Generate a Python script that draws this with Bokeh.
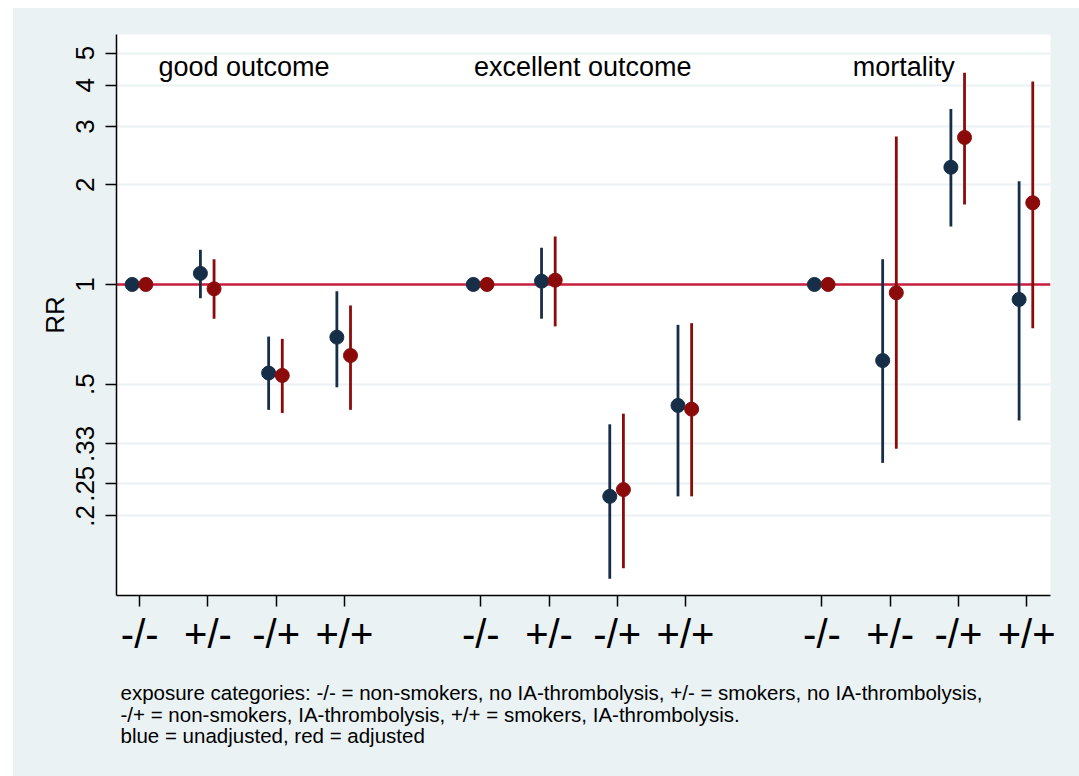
from bokeh.plotting import figure
from bokeh.models import Range1d, FixedTicker, ColumnDataSource
from bokeh.layouts import column
from bokeh.core.properties import value
from bokeh.embed import file_html
from bokeh.resources import INLINE

# ---------------- data ----------------
outcomes = ["good outcome", "excellent outcome", "mortality"]
exposures = ["-/-", "+/-", "-/+", "+/+"]

# unadjusted (blue): point estimate, lower CI, upper CI
good_unadj = [1.0, 1.08, 0.54, 0.693]
good_unadj_lo = [1.0, 0.909, 0.418, 0.489]
good_unadj_hi = [1.0, 1.273, 0.696, 0.954]
exc_unadj = [1.0, 1.023, 0.229, 0.431]
exc_unadj_lo = [1.0, 0.788, 0.129, 0.229]
exc_unadj_hi = [1.0, 1.29, 0.378, 0.755]
mort_unadj = [1.0, 0.589, 2.26, 0.901]
mort_unadj_lo = [1.0, 0.289, 1.497, 0.388]
mort_unadj_hi = [1.0, 1.192, 3.39, 2.05]

# adjusted (red)
good_adj = [1.0, 0.970, 0.531, 0.610]
good_adj_lo = [1.0, 0.788, 0.409, 0.418]
good_adj_hi = [1.0, 1.192, 0.685, 0.864]
exc_adj = [1.0, 1.03, 0.240, 0.420]
exc_adj_lo = [1.0, 0.747, 0.139, 0.229]
exc_adj_hi = [1.0, 1.397, 0.407, 0.764]
mort_adj = [1.0, 0.944, 2.78, 1.765]
mort_adj_lo = [1.0, 0.319, 1.745, 0.738]
mort_adj_hi = [1.0, 2.80, 4.36, 4.10]

ytick_vals = [0.2, 0.25, 0.33, 0.5, 1, 2, 3, 4, 5]
ytick_labels = [".2", ".25", ".33", ".5", "1", "2", "3", "4", "5"]

footnote = [
    "exposure categories: -/- = non-smokers, no IA-thrombolysis,  +/- = smokers, no IA-thrombolysis,",
    "-/+ = non-smokers, IA-thrombolysis, +/+ = smokers, IA-thrombolysis.",
    "blue = unadjusted, red = adjusted",
]

# ---------------- styling / layout ----------------
FONT = "Liberation Sans"
BG = "#EAF2F3"
BLUE = "#162E48"
RED = "#8B0B0B"
REF = "#C81E3C"

xpos = [g * 5 + i + 1 for g in range(len(outcomes)) for i in range(len(exposures))]
xlabels = exposures * len(outcomes)

unadj = good_unadj + exc_unadj + mort_unadj
unadj_lo = good_unadj_lo + exc_unadj_lo + mort_unadj_lo
unadj_hi = good_unadj_hi + exc_unadj_hi + mort_unadj_hi
adj = good_adj + exc_adj + mort_adj
adj_lo = good_adj_lo + exc_adj_lo + mort_adj_lo
adj_hi = good_adj_hi + exc_adj_hi + mort_adj_hi

src_u = ColumnDataSource(dict(x=[v - 0.11 for v in xpos], y=unadj, lo=unadj_lo, hi=unadj_hi))
src_a = ColumnDataSource(dict(x=[v + 0.09 for v in xpos], y=adj, lo=adj_lo, hi=adj_hi))

W = 1066
H1 = 672
H2 = 96
BL, BR = 103, 29
FW = W - BL - BR

p = figure(width=W, height=H1,
           x_range=Range1d(0.66, 14.35), y_range=Range1d(0.1149, 5.69),
           y_axis_type="log", output_backend="svg", toolbar_location=None,
           min_border_left=BL, min_border_right=BR, min_border_top=26,
           min_border_bottom=H1 - 26 - 561)
p.background_fill_color = "white"
p.border_fill_color = BG
p.outline_line_color = None

p.xgrid.visible = False
p.ygrid.grid_line_color = BG
p.ygrid.grid_line_width = 2

# y axis
p.yaxis.ticker = FixedTicker(ticks=ytick_vals)
p.yaxis.major_label_overrides = dict(zip(ytick_vals, ytick_labels))
p.yaxis.major_label_orientation = "vertical"
p.yaxis.major_label_text_font = FONT
p.yaxis.major_label_text_font_size = "26px"
p.yaxis.major_label_text_color = "black"
p.yaxis.major_label_standoff = 11
p.yaxis.major_tick_out = 11
p.yaxis.major_tick_in = 0
p.yaxis.minor_tick_out = 0
p.yaxis.minor_tick_in = 0
p.yaxis.axis_line_width = 1.5
p.yaxis.major_tick_line_width = 1.5
p.yaxis.axis_label = "RR"
p.yaxis.axis_label_text_font = FONT
p.yaxis.axis_label_text_font_size = "26px"
p.yaxis.axis_label_text_font_style = "normal"
p.yaxis.axis_label_text_color = "black"
p.yaxis.axis_label_standoff = 4

# x axis
p.xaxis.ticker = FixedTicker(ticks=xpos)
p.xaxis.major_label_overrides = dict(zip(xpos, xlabels))
p.xaxis.major_label_text_font = FONT
p.xaxis.major_label_text_font_size = "40px"
p.xaxis.major_label_text_color = "black"
p.xaxis.major_label_standoff = 5
p.xaxis.major_tick_out = 11
p.xaxis.major_tick_in = 0
p.xaxis.minor_tick_out = 0
p.xaxis.minor_tick_in = 0
p.xaxis.axis_line_width = 1.5
p.xaxis.major_tick_line_width = 1.5

# reference line at RR = 1
p.line(x=[0.66, 14.35], y=[1, 1], line_color=REF, line_width=2.5)

# confidence intervals
p.segment(x0="x", y0="lo", x1="x", y1="hi", source=src_u, line_color=BLUE, line_width=2.8)
p.segment(x0="x", y0="lo", x1="x", y1="hi", source=src_a, line_color=RED, line_width=2.8)

# point estimates
p.scatter(x="x", y="y", source=src_u, size=14, fill_color=BLUE, line_color=BLUE)
p.scatter(x="x", y="y", source=src_a, size=14, fill_color=RED, line_color=RED)

# panel titles
title_x = [1.275, 5.9, 11.45]
p.text(x=title_x, y=[4.55] * 3, text=outcomes, text_font=value(FONT), text_font_size="27px",
       text_align="left", text_baseline="middle", text_color="black")

# footnote strip below the chart (pixel coordinates measured from the frame's left edge)
q = figure(width=W, height=H2, x_range=Range1d(0, FW), y_range=Range1d(H2, 0),
           output_backend="svg", toolbar_location=None,
           min_border_left=BL, min_border_right=BR, min_border_top=0, min_border_bottom=0)
q.axis.visible = False
q.grid.visible = False
q.outline_line_color = None
q.background_fill_color = BG
q.border_fill_color = BG
q.text(x=[4] * 3, y=[12, 33.5, 55], text=footnote, text_font=value(FONT),
       text_font_size="20.5px", text_align="left", text_baseline="middle", text_color="black")

layout = column(p, q, spacing=0)
layout.margin = (8, 0, 0, 13)
layout.styles = {"background-color": BG}

open("out.html", "w").write(file_html(layout, INLINE))
